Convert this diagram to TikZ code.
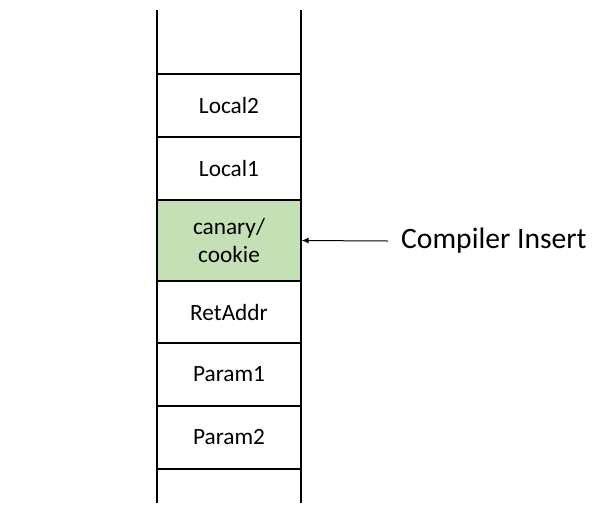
\documentclass[tikz,border=0pt]{standalone}
\usepackage{fontspec}
\setmainfont{Carlito}
\usetikzlibrary{arrows.meta}

\definecolor{canarygreen}{RGB}{197,224,180}

\tikzset{
    cell/.style={draw, line width=1.2pt, minimum width=144pt, inner sep=0pt,
        align=center, font=\fontsize{23.3}{28}\selectfont},
}

\begin{document}
\begin{tikzpicture}[x=1pt, y=-1pt]

            % the frame
            \useasboundingbox (0, 0) rectangle (601, 512);

            % the walls
            \draw[line width=1.2pt] (157, 10) -- (157, 503);
            \draw[line width=1.2pt] (301, 10) -- (301, 503);

            % the cells
            \foreach \n/\t/\y in {local2/Local2/105.5, local1/Local1/168.5, retaddr/RetAddr/312, param1/Param1/374.5, param2/Param2/437.5} {
                \node[cell, minimum height=63pt] (\n) at (229, \y) {\t};
            };

            % canary
            \node[cell, fill=canarygreen, minimum height=81pt] (canary) at (229, 240.5) {canary/\\cookie};

            % label
            \node[anchor=west, inner sep=0pt, font=\fontsize{29.6}{34}\selectfont] (insert) at (401, 241) {Compiler Insert};
            \draw[-{Latex[length=7pt, width=6pt]}, line width=1pt] ([xshift=-13pt]insert.west) -- (canary.east);

        \end{tikzpicture}
\end{document}
